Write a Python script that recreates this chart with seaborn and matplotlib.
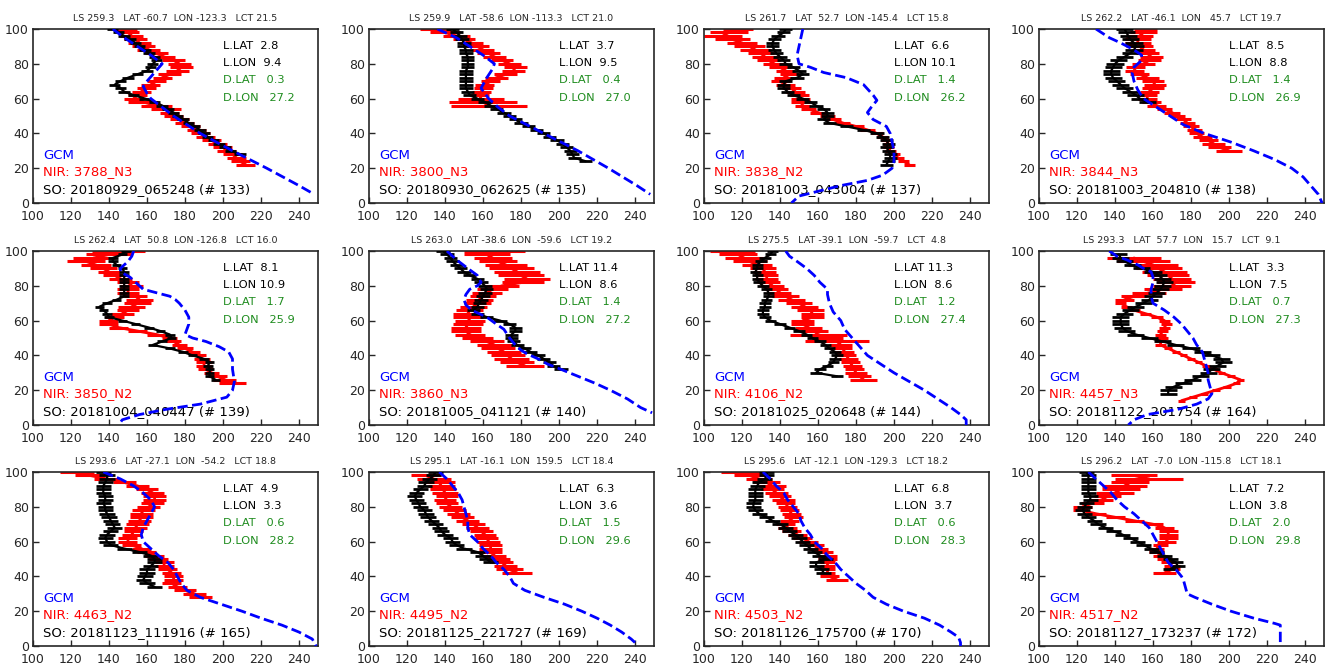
import numpy as np
import matplotlib
matplotlib.use('Agg')
import matplotlib.pyplot as plt
import seaborn as sns

# panel header info
ls_vals = [259.3, 259.9, 261.7, 262.2, 262.4, 263.0, 275.5, 293.3, 293.6, 295.1, 295.6, 296.2]
lat_vals = [-60.7, -58.6, 52.7, -46.1, 50.8, -38.6, -39.1, 57.7, -27.1, -16.1, -12.1, -7.0]
lon_vals = [-123.3, -113.3, -145.4, 45.7, -126.8, -59.6, -59.7, 15.7, -54.2, 159.5, -129.3, -115.8]
lct_vals = [21.5, 21.0, 15.8, 19.7, 16.0, 19.2, 4.8, 9.1, 18.8, 18.4, 18.2, 18.1]

l_lat = [2.8, 3.7, 6.6, 8.5, 8.1, 11.4, 11.3, 3.3, 4.9, 6.3, 6.8, 7.2]
l_lon = [9.4, 9.5, 10.1, 8.8, 10.9, 8.6, 8.6, 7.5, 3.3, 3.6, 3.7, 3.8]
d_lat = [0.3, 0.4, 1.4, 1.4, 1.7, 1.4, 1.2, 0.7, 0.6, 1.5, 0.6, 2.0]
d_lon = [27.2, 27.0, 26.2, 26.9, 25.9, 27.2, 27.4, 27.3, 28.2, 29.6, 28.3, 29.8]

nir_ids = ['3788_N3', '3800_N3', '3838_N2', '3844_N3', '3850_N2', '3860_N3',
           '4106_N2', '4457_N3', '4463_N2', '4495_N2', '4503_N2', '4517_N2']
so_ids = ['20180929_065248', '20180930_062625', '20181003_043004', '20181003_204810',
          '20181004_040447', '20181005_041121', '20181025_020648', '20181122_201754',
          '20181123_111916', '20181125_221727', '20181126_175700', '20181127_173237']
so_nums = [133, 135, 137, 138, 139, 140, 144, 164, 165, 169, 170, 172]

# GCM profiles (altitude km, temperature K)
gcm_alt = [
    [100, 95, 90, 85, 80, 75, 70, 67, 63, 60, 50, 40, 30, 20, 10, 5],
    [100, 95, 90, 85, 80, 77, 72, 66, 60, 55, 50, 40, 30, 20, 10, 5],
    [100, 90, 85, 80, 78, 75, 72, 68, 62, 59, 55, 52, 48, 44, 40, 30, 24, 20, 16, 13, 10, 7, 4, 0],
    [100, 95, 92, 88, 85, 82, 80, 78, 75, 70, 65, 60, 55, 50, 45, 40, 35, 30, 25, 20, 15, 10, 5, 0],
    [100, 97, 94, 90, 88, 85, 80, 78, 76, 74, 72, 70, 66, 62, 58, 55, 52, 50, 48, 45, 42, 38, 32, 25, 20, 16, 12, 9, 6, 3, 0],
    [100, 95, 90, 86, 82, 80, 78, 75, 72, 69, 66, 62, 58, 55, 50, 46, 43, 41, 38, 35, 32, 28, 24, 20, 15, 10, 7],
    [100, 97, 94, 90, 86, 82, 80, 78, 75, 70, 65, 60, 55, 50, 45, 40, 35, 30, 25, 20, 15, 10, 6, 3, 0],
    [100, 97, 95, 92, 90, 88, 85, 82, 78, 74, 70, 66, 62, 58, 54, 50, 46, 42, 38, 34, 30, 26, 22, 18, 15, 12, 9, 6, 3, 0],
    [100, 96, 92, 88, 84, 80, 76, 72, 68, 64, 60, 56, 52, 48, 44, 40, 36, 32, 28, 24, 20, 16, 12, 8, 4, 2, 0],
    [100, 96, 92, 88, 84, 80, 76, 72, 68, 64, 60, 56, 52, 48, 44, 40, 36, 32, 28, 24, 20, 16, 12, 8, 4, 2],
    [100, 96, 92, 88, 84, 80, 76, 72, 68, 64, 60, 56, 52, 48, 44, 40, 36, 32, 28, 24, 20, 16, 12, 8, 5, 2, 0],
    [100, 96, 92, 88, 84, 80, 76, 72, 68, 64, 60, 56, 52, 48, 44, 40, 38, 34, 30, 28, 24, 20, 16, 13, 12, 8, 0],
]
gcm_temp = [
    [142, 148, 155, 162, 168, 164, 160, 158, 160, 162, 174, 188, 205, 223, 240, 248],
    [136, 146, 153, 160, 166, 165, 162, 159, 163, 168, 174, 192, 210, 226, 241, 248],
    [152, 150, 149, 150, 156, 163, 175, 184, 189, 191, 188, 186, 189, 196, 198, 200, 200, 199, 194, 186, 172, 161, 150, 146],
    [130, 137, 143, 150, 154, 154, 152, 150, 149, 150, 152, 155, 162, 169, 176, 187, 201, 213, 224, 233, 239, 243, 247, 249],
    [153, 152, 150, 146, 146, 151, 156, 158, 165, 172, 175, 177, 180, 182, 182, 181, 180, 184, 191, 198, 203, 205, 205, 206, 205, 202, 188, 170, 156, 147, 145],
    [141, 146, 152, 157, 159, 157, 153, 151, 150, 151, 154, 162, 167, 171, 174, 177, 180, 183, 189, 194, 201, 210, 219, 227, 236, 243, 249],
    [143, 145, 149, 154, 158, 161, 163, 165, 165, 166, 168, 172, 174, 178, 182, 186, 193, 200, 208, 216, 223, 230, 235, 238, 238],
    [137, 141, 146, 152, 155, 159, 160, 160, 159, 159, 160, 166, 171, 175, 178, 181, 183, 186, 187, 188, 189, 189, 190, 191, 189, 183, 173, 157, 150, 147],
    [137, 146, 153, 158, 162, 164, 162, 160, 158, 157, 158, 162, 166, 171, 174, 176, 178, 181, 188, 199, 210, 220, 231, 240, 247, 248, 249],
    [137, 141, 144, 147, 149, 150, 151, 152, 152, 153, 157, 160, 164, 167, 171, 174, 176, 182, 192, 203, 212, 220, 227, 233, 238, 240],
    [131, 135, 138, 142, 144, 147, 150, 151, 153, 156, 158, 162, 165, 169, 172, 176, 180, 185, 189, 196, 205, 216, 224, 230, 234, 235, 235],
    [126, 130, 134, 138, 141, 145, 150, 154, 158, 160, 162, 164, 166, 168, 172, 175, 176, 177, 178, 182, 191, 201, 213, 224, 227, 227, 227],
]

# SO retrievals, read every 2 km from the top altitude down
so_top = [100, 100, 100, 100, 100, 100, 100, 98, 100, 100, 100, 100]
so_temp = [
    [142, 145, 148, 151, 154, 156, 159, 161, 164, 165, 163, 162, 160, 155, 150, 146, 143, 146, 148, 153,
     159, 164, 168, 171, 174, 176, 179, 182, 185, 188, 190, 192, 195, 198, 201, 204, 209],
    [144, 146, 148, 149, 150, 150, 151, 151, 152, 152, 152, 152, 151, 151, 151, 151, 151, 151, 152, 153,
     157, 161, 164, 167, 171, 174, 177, 180, 184, 188, 192, 195, 199, 202, 204, 206, 207, 208, 214],
    [143, 142, 139, 137, 136, 136, 137, 138, 140, 142, 143, 147, 150, 152, 149, 143, 142, 142, 144, 147,
     152, 156, 159, 163, 165, 165, 163, 166, 175, 184, 191, 194, 196, 197, 196, 197, 198, 198, 197, 196],
    [145, 146, 147, 148, 150, 151, 150, 148, 145, 142, 140, 139, 138, 138, 139, 141, 143, 145, 148, 151,
     153, 157],
    [149, 147, 142, 142, 144, 147, 148, 148, 148, 148, 148, 148, 148, 148, 144, 139, 135, 137, 139, 140,
     147, 154, 161, 167, 172, 173, 168, 163, 172, 179, 184, 190, 193, 192, 193, 193, 193, 196],
    [139, 141, 143, 144, 146, 148, 150, 153, 157, 159, 161, 162, 161, 160, 159, 158, 157, 155, 157, 162,
     169, 174, 177, 177, 175, 175, 176, 178, 182, 185, 189, 192, 195, 197, 201],
    [136, 135, 132, 130, 128, 128, 127, 128, 128, 129, 131, 133, 134, 134, 133, 132, 132, 131, 131, 132,
     135, 140, 145, 150, 154, 157, 161, 164, 166, 169, 170, 169, 168, 165, 161, 159, 170],
    [142, 143, 145, 149, 154, 160, 163, 165, 166, 165, 164, 162, 160, 158, 155, 151, 148, 145, 143, 143,
     143, 144, 146, 151, 158, 165, 172, 180, 186, 191, 196, 197, 194, 191, 189, 185, 181, 176, 171, 168, 168],
    [137, 139, 139, 138, 137, 137, 137, 138, 138, 137, 138, 138, 139, 140, 141, 142, 143, 141, 139, 138,
     139, 141, 148, 156, 162, 164, 164, 162, 160, 160, 159, 158, 160, 164],
    [135, 134, 132, 130, 129, 127, 125, 124, 125, 126, 127, 129, 130, 131, 133, 135, 137, 138, 140, 143,
     144, 146, 150, 157, 160, 162, 164],
    [133, 133, 132, 129, 128, 127, 127, 127, 127, 126, 126, 127, 129, 133, 136, 140, 143, 145, 148, 150,
     152, 154, 156, 158, 161, 164, 159, 159, 162, 163],
    [125, 126, 126, 126, 126, 126, 126, 127, 127, 125, 124, 123, 124, 126, 129, 131, 135, 139, 144, 148,
     152, 155, 159, 162, 166, 169, 172, 173, 169],
]
so_err = [3, 3.5, 3.5, 4.5, 2.5, 3.5, 3, 4.5, 4, 4, 4, 4]

# NIR retrievals, read every 2 km from the top altitude down
nir_top = [100, 100, 100, 100, 100, 100, 100, 96, 100, 98, 100, 98]
nir_temp = [
    [149, 150, 152, 154, 156, 158, 161, 165, 169, 174, 177, 178, 176, 172, 168, 165, 162, 160, 157, 155,
     153, 158, 165, 170, 172, 174, 177, 180, 183, 186, 188, 191, 194, 197, 200, 202, 205, 207, 209, 212],
    [135, 140, 146, 150, 154, 157, 160, 163, 166, 170, 174, 177, 176, 172, 167, 164, 161, 160, 159, 158,
     159, 160, 163],
    [118, 113, 110, 115, 120, 124, 127, 130, 132, 134, 137, 140, 143, 145, 142, 140, 143, 146, 148, 150,
     151, 151, 152, 155, 160, 165, 168, 173, 180, 186, 191, 194, 196, 197, 197, 198, 200, 202, 205, 208],
    [156, 155, 153, 152, 152, 153, 155, 157, 159, 158, 155, 151, 150, 153, 157, 160, 161, 160, 158, 157,
     157, 159, 162, 166, 170, 173, 176, 178, 180, 182, 183, 186, 189, 192, 195, 200],
    [145, 140, 132, 128, 133, 137, 140, 143, 146, 150, 152, 150, 150, 154, 156, 155, 152, 150, 147, 143,
     140, 140, 145, 155, 165, 172, 174, 177, 180, 184, 187, 189, 190, 190, 191, 194, 197, 201, 205],
    [166, 162, 165, 168, 172, 175, 178, 180, 183, 181, 170, 165, 162, 160, 158, 157, 155, 153, 152, 152,
     153, 152, 151, 151, 153, 157, 162, 166, 168, 171, 173, 175, 178, 182],
    [115, 118, 121, 124, 128, 131, 132, 133, 133, 134, 136, 138, 140, 143, 146, 150, 153, 156, 157, 157,
     152, 152, 155, 158, 160, 165, 170, 172, 173, 174, 175, 176, 177, 178, 179, 180, 182, 184],
    [150, 155, 160, 163, 166, 168, 170, 172, 170, 165, 158, 150, 145, 143, 146, 150, 156, 162, 166, 167,
     166, 165, 164, 165, 164, 164, 168, 172, 176, 180, 184, 188, 192, 196, 201, 206, 204, 199, 193, 187,
     181, 175],
    [123, 130, 139, 148, 155, 160, 163, 164, 164, 163, 161, 158, 157, 157, 156, 155, 154, 153, 152, 150,
     150, 152, 157, 160, 164, 166, 169, 169, 171, 173, 174, 174, 173, 176, 180, 185, 188],
    [130, 134, 137, 138, 139, 140, 141, 140, 141, 143, 145, 147, 149, 152, 155, 157, 159, 161, 162, 163,
     164, 164, 164, 166, 168, 170, 172, 174, 178],
    [121, 124, 129, 133, 136, 136, 138, 140, 142, 143, 144, 145, 146, 147, 145, 143, 144, 146, 149, 152,
     155, 158, 160, 163, 165, 165, 165, 165, 165, 165, 166, 170],
    [150, 158, 148, 145, 143, 140, 136, 133, 128, 123, 122, 130, 140, 150, 160, 166, 168, 168, 168, 167,
     164, 162, 162, 164, 166, 168, 170, 170, 166],
]
nir_err = [
    [6, 6, 6, 6, 6, 6, 6, 6, 6, 6, 6, 6, 6, 6, 5, 5, 5, 5, 5, 5,
     5, 8, 8, 8, 5, 5, 5, 5, 5, 5, 5, 5, 5, 5, 5, 5, 5, 5, 5, 5],
    [8, 8, 7, 6, 6, 6, 6, 6, 6, 6, 6, 6, 6, 6, 6, 5, 5, 5, 5, 5, 12, 18, 20],
    [8, 10, 10, 9, 8, 8, 8, 7, 7, 6, 6, 6, 5, 5, 5, 5, 5, 5, 5, 5,
     5, 5, 4, 4, 4, 4, 4, 4, 4, 4, 3, 3, 3, 3, 3, 3, 3, 3, 3, 3],
    [6, 7, 7, 7, 7, 7, 6, 6, 6, 6, 6, 5, 5, 5, 6, 6, 6, 6, 5, 5,
     5, 5, 5, 4, 4, 4, 4, 4, 4, 4, 4, 5, 5, 6, 6, 7],
    [14, 12, 11, 10, 8, 7, 6, 6, 6, 6, 6, 6, 6, 6, 7, 7, 7, 6, 6, 5,
     5, 5, 5, 5, 5, 4, 4, 4, 4, 4, 4, 4, 4, 4, 4, 4, 5, 6, 7],
    [16, 12, 10, 10, 11, 12, 12, 12, 12, 11, 9, 8, 8, 7, 7, 7, 7, 7, 8, 8,
     8, 8, 8, 8, 8, 8, 9, 9, 9, 9, 9, 9, 9, 10],
    [12, 10, 10, 9, 8, 7, 6, 6, 6, 6, 6, 6, 6, 7, 7, 7, 7, 7, 6, 6,
     6, 6, 7, 7, 15, 8, 17, 6, 5, 5, 5, 5, 5, 5, 5, 6, 6, 7],
    [14, 14, 13, 12, 12, 11, 10, 10, 10, 10, 9, 7, 5, 3, 3, 3, 3, 3, 3, 3,
     3, 3, 3, 3, 3, 3, 2, 2, 2, 2, 2, 2, 2, 2, 2, 2, 2, 2, 2, 2, 2, 2],
    [9, 8, 7, 6, 6, 6, 6, 6, 6, 6, 6, 6, 6, 6, 6, 6, 6, 5, 5, 5,
     5, 5, 5, 5, 5, 5, 5, 5, 5, 5, 5, 5, 5, 5, 6, 6, 6],
    [8, 9, 8, 7, 7, 7, 6, 6, 6, 6, 6, 6, 6, 6, 6, 6, 6, 6, 6, 6,
     6, 6, 6, 6, 6, 6, 6, 7, 8],
    [12, 8, 7, 7, 7, 6, 6, 6, 6, 5, 5, 5, 5, 5, 5, 5, 5, 5, 5, 5,
     5, 5, 5, 5, 5, 5, 4, 4, 4, 4, 5, 6],
    [12, 18, 10, 12, 10, 10, 7, 6, 6, 5, 4, 5, 5, 5, 5, 5, 5, 5, 5, 5,
     4, 4, 4, 4, 4, 4, 4, 4, 6],
]

sns.set_style('ticks')
plt.rcParams['font.family'] = ['DejaVu Sans']

fig = plt.figure(figsize=(13.28, 6.65), dpi=100)

col_left = [33, 369, 704, 1039]
row_top = [29, 251, 472]
W, H = 285, 174
green = '#1e8c1e'

for i in range(12):
    r, c = divmod(i, 4)
    ax = fig.add_axes([col_left[c] / 1328, 1 - (row_top[r] + H) / 665, W / 1328, H / 665])

    nir_alt = nir_top[i] - 2 * np.arange(len(nir_temp[i]))
    so_alt = so_top[i] - 2 * np.arange(len(so_temp[i]))

    ax.errorbar(nir_temp[i], nir_alt, xerr=nir_err[i], color='red', lw=2,
                elinewidth=2.2, capsize=0, zorder=2)
    ax.errorbar(so_temp[i], so_alt, xerr=so_err[i], color='black', lw=1.6,
                elinewidth=2.0, capsize=0, zorder=3)
    sns.lineplot(x=gcm_temp[i], y=gcm_alt[i], sort=False, estimator=None,
                 color='blue', lw=2, linestyle='--', ax=ax, zorder=4)

    ax.set_xlim(100, 250)
    ax.set_ylim(0, 100)
    ax.set_xticks(range(100, 241, 20))
    ax.set_yticks(range(0, 101, 20))
    ax.set_xlabel('')
    ax.set_ylabel('')
    ax.tick_params(direction='in', length=4, width=1, labelsize=9)
    ax.tick_params(axis='x', pad=5)
    ax.tick_params(axis='y', pad=3)
    for s in ax.spines.values():
        s.set_linewidth(1.2)

    ax.set_title(f'LS {ls_vals[i]:5.1f}   LAT {lat_vals[i]:5.1f}  LON {lon_vals[i]:6.1f}   LCT {lct_vals[i]:4.1f}',
                 fontsize=6.8, pad=6)

    tr = ax.transAxes
    ax.text(0.665, 0.905, f'L.LAT {l_lat[i]:4.1f}', transform=tr, fontsize=8.2, color='black', va='center')
    ax.text(0.665, 0.805, f'L.LON {l_lon[i]:4.1f}', transform=tr, fontsize=8.2, color='black', va='center')
    ax.text(0.665, 0.705, f'D.LAT {d_lat[i]:5.1f}', transform=tr, fontsize=8.2, color=green, va='center')
    ax.text(0.665, 0.605, f'D.LON {d_lon[i]:6.1f}', transform=tr, fontsize=8.2, color=green, va='center')

    ax.text(0.035, 0.275, 'GCM', transform=tr, fontsize=9.5, color='blue', va='center')
    ax.text(0.035, 0.178, f'NIR: {nir_ids[i]}', transform=tr, fontsize=9.5, color='red', va='center')
    ax.text(0.035, 0.075, f'SO: {so_ids[i]} (# {so_nums[i]})', transform=tr, fontsize=9.5,
            color='black', va='center')

fig.savefig('out.png', dpi=100)
